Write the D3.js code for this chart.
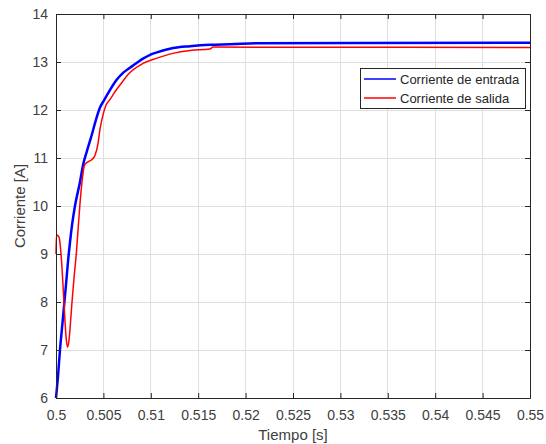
<!DOCTYPE html>
<html><head><meta charset="utf-8">
<script src="https://cdn.jsdelivr.net/npm/d3@7"></script>
<style>body{margin:0;background:#fff}svg{display:block}text{font-family:"Liberation Sans",Arial,sans-serif}</style>
</head><body><svg id="c" width="546" height="444"></svg>
<script>
const xTicks = [0.5,0.505,0.51,0.515,0.52,0.525,0.53,0.535,0.54,0.545,0.55];
const xTickLabels = ["0.5","0.505","0.51","0.515","0.52","0.525","0.53","0.535","0.54","0.545","0.55"];
const yTicks = [6,7,8,9,10,11,12,13,14];
const seriesNames = ["Corriente de entrada","Corriente de salida"];
const seriesColors = ["#0000ff","#ff0000"];
const entradaT = [0.5,0.50021,0.50042,0.50063,0.50084,0.50105,0.50127,0.50148,0.50169,0.5020,0.50253,0.50285,0.50327,0.5038,0.50422,0.50464,0.50506,0.5057,0.5064,0.5071,0.5078,0.50851,0.50918,0.50992,0.51065,0.51168,0.51234,0.51414,0.51624,0.51835,0.52131,0.55];
const entradaV = [6.0,6.45,7.0,7.45,7.9,8.35,8.85,9.25,9.6,10.0,10.5,10.85,11.15,11.5,11.8,12.05,12.2,12.42,12.63,12.78,12.88,12.98,13.07,13.15,13.2,13.26,13.29,13.33,13.36,13.37,13.39,13.40];
const salidaT = [0.5,0.50005,0.50032,0.50053,0.50074,0.50095,0.50105,0.50121,0.50137,0.50155,0.50169,0.5019,0.50216,0.50235,0.50253,0.50274,0.50301,0.50338,0.5038,0.50411,0.50443,0.50464,0.50496,0.50527,0.5057,0.50622,0.50675,0.5078,0.50918,0.51065,0.51234,0.51414,0.51624,0.51656,0.55];
const salidaV = [9.0,9.4,9.35,9.0,8.35,7.6,7.3,7.06,7.2,7.63,8.0,8.5,9.05,9.57,10.05,10.5,10.85,10.92,10.97,11.05,11.3,11.6,11.9,12.1,12.22,12.38,12.52,12.78,12.97,13.08,13.18,13.24,13.27,13.31,13.30];

const svg = d3.select("#c");
const L=56, R=530, T=14, B=398;
const x = d3.scaleLinear().domain([0.5,0.55]).range([L,R]);
const y = d3.scaleLinear().domain([6,14]).range([B,T]);
const axisCol = "#262626";

// grid
const g = svg.append("g");
g.selectAll(".gx").data(xTicks).enter().append("line")
  .attr("x1",d=>x(d)).attr("x2",d=>x(d)).attr("y1",T).attr("y2",B)
  .attr("stroke","#dfdfdf").attr("stroke-width",1).attr("shape-rendering","crispEdges");
g.selectAll(".gy").data(yTicks).enter().append("line")
  .attr("y1",d=>y(d)).attr("y2",d=>y(d)).attr("x1",L).attr("x2",R)
  .attr("stroke","#dfdfdf").attr("stroke-width",1).attr("shape-rendering","crispEdges");

// lines
const line = d3.line().x(d=>x(d[0])).y(d=>y(d[1])).curve(d3.curveMonotoneX);
const ent = entradaT.map((t,i)=>[t,entradaV[i]]);
const sal = salidaT.map((t,i)=>[t,salidaV[i]]);
svg.append("path").datum(ent).attr("d",line).attr("fill","none").attr("stroke",seriesColors[0]).attr("stroke-width",2.5);
svg.append("path").datum(sal).attr("d",line).attr("fill","none").attr("stroke",seriesColors[1]).attr("stroke-width",1.5);

// axes
const fmt = (d)=>xTickLabels[xTicks.indexOf(d)];
const xAxis = d3.axisBottom(x).tickValues(xTicks).tickFormat(fmt).tickSizeInner(-5).tickSizeOuter(0).tickPadding(12);
const xAxisTop = d3.axisTop(x).tickValues(xTicks).tickFormat("").tickSizeInner(-5).tickSizeOuter(0);
const yAxis = d3.axisLeft(y).tickValues(yTicks).tickFormat(d3.format("d")).tickSizeInner(-5).tickSizeOuter(0).tickPadding(8);
const yAxisR = d3.axisRight(y).tickValues(yTicks).tickFormat("").tickSizeInner(-5).tickSizeOuter(0);
function style(sel){
  sel.selectAll("path").attr("stroke",axisCol);
  sel.selectAll("line").attr("stroke",axisCol);
  sel.selectAll("text").attr("fill","#404040").style("font-size","14px").style("font-family","'Liberation Sans',Arial,sans-serif");
}
svg.append("g").attr("transform",`translate(0,${B})`).call(xAxis).call(style);
svg.append("g").attr("transform",`translate(0,${T})`).call(xAxisTop).call(style);
svg.append("g").attr("transform",`translate(${L},0)`).call(yAxis).call(style);
svg.append("g").attr("transform",`translate(${R},0)`).call(yAxisR).call(style);

// titles
svg.append("text").attr("x",(L+R)/2).attr("y",440).attr("text-anchor","middle")
  .attr("fill","#404040").style("font-size","15px").text("Tiempo [s]");
svg.append("text").attr("transform",`translate(25,${(T+B)/2}) rotate(-90)`).attr("text-anchor","middle")
  .attr("fill","#404040").style("font-size","15px").text("Corriente [A]");

// legend
const lg = svg.append("g");
lg.append("rect").attr("x",360.5).attr("y",68.5).attr("width",165).attr("height",40)
  .attr("fill","#fff").attr("stroke",axisCol).attr("stroke-width",1);
seriesNames.forEach((n,i)=>{
  const yy = 79 + i*19;
  lg.append("line").attr("x1",364).attr("x2",396).attr("y1",yy).attr("y2",yy).attr("stroke",seriesColors[i]).attr("stroke-width",1.5);
  lg.append("text").attr("x",400).attr("y",yy).attr("dy","0.35em").attr("fill","#262626").style("font-size","13px").text(n);
});
</script></body></html>
